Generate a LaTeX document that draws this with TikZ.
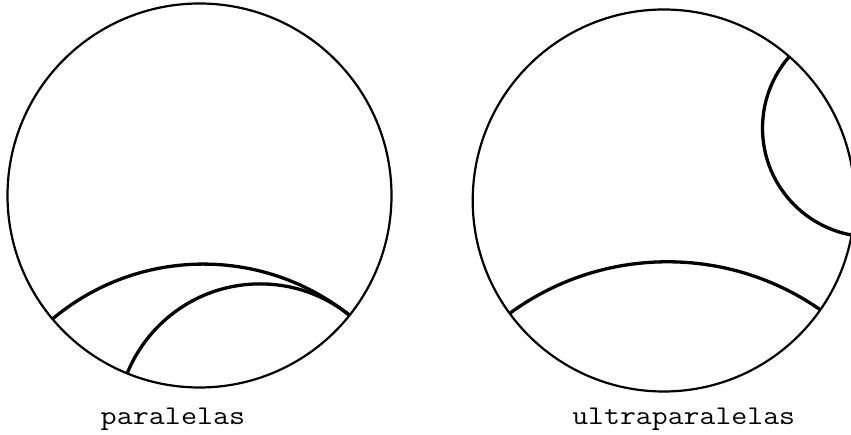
\documentclass[tikz,border=0pt]{standalone}
\usepackage{fontspec}
\usepackage{graphicx}
\begin{document}
\begin{tikzpicture}[x=1pt,y=1pt,
  disk/.style={line width=2.2pt},
  hline/.style={line width=3.3pt},
  lbl/.style={font=\ttfamily\addfontfeatures{FakeBold=1.6}\fontsize{27}{30}\selectfont, anchor=base, inner sep=0pt}]
\useasboundingbox (0,0) rectangle (851,435);
% left disk
\coordinate (L) at (199.5,239.5);
\begin{scope}
  \clip (L) circle (192);
  \draw[hline] (203.25,-63.5) circle (234.4);
  \draw[hline] (260.1,7.7) circle (143.4);
\end{scope}
\draw[disk] (L) circle (192);
% right disk
\coordinate (R) at (663.7,234.5);
\begin{scope}
  \clip (R) circle (191);
  \draw[hline] (667.5,-93.8) circle (267.0);
  \draw[hline] (871.2,306.9) circle (108.7);
\end{scope}
\draw[disk] (R) circle (191);
\node[lbl] (t1) at (173,10.7) {\scalebox{1.155}[1]{paralelas}};
\node[lbl] (t2) at (683.7,10.7) {\scalebox{1.145}[1]{ultraparalelas}};
\end{tikzpicture}
\end{document}
